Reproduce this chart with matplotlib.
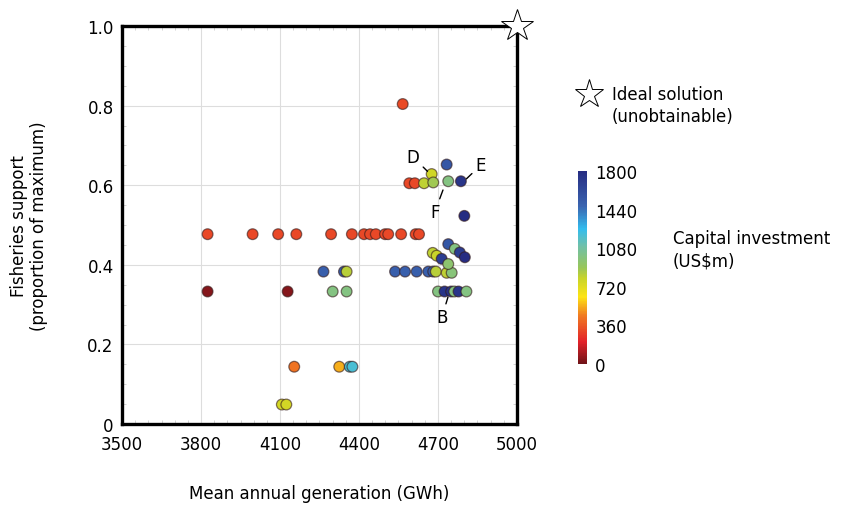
import numpy as np
import matplotlib
matplotlib.use("Agg")
import matplotlib.pyplot as plt
from matplotlib.colors import LinearSegmentedColormap, Normalize
from matplotlib.ticker import MultipleLocator, FuncFormatter

# generation (GWh), fisheries support (proportion), capital investment (US$m)
gen = [3825, 3996, 4093, 4162, 4294, 4373, 4419, 4442, 4464, 4499, 4511, 4560, 4615, 4628,
       4591, 4612, 4566,
       3825, 4129, 4300, 4353,
       4265, 4343, 4353, 4537, 4575, 4619, 4663, 4682, 4692, 4733, 4752,
       4700, 4725, 4750, 4762, 4778, 4808,
       4680, 4695, 4714, 4739, 4739, 4764, 4783, 4802,
       4647, 4676, 4682, 4739, 4733, 4787, 4800,
       4154, 4325, 4365, 4375, 4107, 4124]
fish = [0.477, 0.477, 0.477, 0.477, 0.477, 0.477, 0.477, 0.477, 0.477, 0.477, 0.477, 0.477, 0.477, 0.477,
        0.605, 0.605, 0.804,
        0.333, 0.333, 0.333, 0.333,
        0.383, 0.383, 0.383, 0.383, 0.383, 0.383, 0.383, 0.383, 0.383, 0.380, 0.380,
        0.333, 0.333, 0.333, 0.333, 0.333, 0.333,
        0.430, 0.423, 0.415, 0.402, 0.452, 0.440, 0.431, 0.419,
        0.605, 0.628, 0.607, 0.610, 0.652, 0.610, 0.523,
        0.144, 0.144, 0.144, 0.144, 0.049, 0.049]
capex = [310, 310, 310, 310, 310, 310, 310, 310, 310, 310, 310, 310, 310, 310,
         310, 310, 320,
         40, 40, 1000, 1000,
         1500, 1500, 830, 1500, 1500, 1500, 1500, 1500, 830, 820, 980,
         1000, 1750, 1750, 1000, 1750, 1000,
         820, 800, 1700, 950, 1550, 1000, 1700, 1800,
         820, 780, 880, 1000, 1550, 1750, 1800,
         430, 540, 1200, 1200, 760, 760]

xticks = [3500, 3800, 4100, 4400, 4700, 5000]
yticks = [0, 0.2, 0.4, 0.6, 0.8, 1.0]
cbar_ticks = [0, 360, 720, 1080, 1440, 1800]

# custom red -> yellow -> green -> cyan -> blue scale
cmap_vals = [0, 205, 450, 625, 800, 900, 1100, 1260, 1476, 1800]
cmap_cols = ["#701418", "#e3222a", "#f07a22", "#fde415", "#c8d42a", "#98c65a",
             "#70c0a8", "#33bdee", "#3a64b0", "#262c82"]
cmap = LinearSegmentedColormap.from_list(
    "capex", list(zip([v / 1800 for v in cmap_vals], cmap_cols)))
norm = Normalize(0, 1800)

# label -> (text position, end of the pointer line)
labels = {"D": ((4605, 0.671), (4660, 0.635)),
          "E": ((4863, 0.651), (4808, 0.616)),
          "F": ((4688, 0.533), (4719, 0.588)),
          "B": ((4715, 0.269), (4738, 0.319))}

plt.rcParams["font.family"] = "DejaVu Sans"
plt.rcParams["font.size"] = 12

fig = plt.figure(figsize=(8.45, 5.06), dpi=100)
ax = fig.add_axes([0.1444, 0.16, 0.4674, 0.7866])

ax.scatter(gen, fish, c=capex, cmap=cmap, norm=norm, s=60,
           edgecolors=(0.2, 0.1, 0.1, 0.6), linewidths=0.9, zorder=3)

# ideal point
ax.plot([5000], [1.0], marker="*", ms=24, mfc="white", mec="black", mew=0.7,
        clip_on=False, zorder=5)

for k in labels:
    txt, tip = labels[k]
    ax.annotate(k, xy=tip, xytext=txt, ha="center", va="center", fontsize=12,
                arrowprops=dict(arrowstyle="-", lw=1.0, color="black", shrinkA=1, shrinkB=0))

ax.set_xlim(3500, 5000)
ax.set_ylim(0, 1.0)
ax.set_xticks(xticks)
ax.set_yticks(yticks)
ax.xaxis.set_minor_locator(MultipleLocator(50))
ax.yaxis.set_minor_locator(MultipleLocator(0.05))
ax.yaxis.set_major_formatter(FuncFormatter(lambda v, p: "0" if v == 0 else "%.1f" % v))
ax.tick_params(which="major", length=0, pad=6, labelsize=12)
ax.tick_params(axis="x", which="major", pad=8)
ax.tick_params(which="minor", direction="in", length=3, color="#cccccc",
               top=True, right=True)
ax.grid(True, which="major", color="#dddddd", lw=0.8)
ax.set_axisbelow(True)
for s in ax.spines.values():
    s.set_linewidth(2.4)

ax.set_xlabel("Mean annual generation (GWh)", fontsize=12, labelpad=22)
ax.set_ylabel("Fisheries support\n(proportion of maximum)", fontsize=12, labelpad=28)

# colour bar
cax = fig.add_axes([0.684, 0.2787, 0.0107, 0.381])
sm = plt.cm.ScalarMappable(norm=norm, cmap=cmap)
cb = fig.colorbar(sm, cax=cax, ticks=cbar_ticks)
cb.outline.set_visible(False)
cax.tick_params(length=0, pad=6, labelsize=12)
fig.text(0.796, 0.505, "Capital investment\n(US$m)", fontsize=12, ha="left", va="center",
         linespacing=1.3)

# legend for ideal solution
fig.add_artist(plt.Line2D([0.697], [0.812], marker="*", ms=21, mfc="white", mec="black",
                          mew=0.7, transform=fig.transFigure))
fig.text(0.724, 0.79, "Ideal solution\n(unobtainable)", fontsize=12, ha="left", va="center",
         linespacing=1.3)

fig.savefig("out.png", dpi=100)
